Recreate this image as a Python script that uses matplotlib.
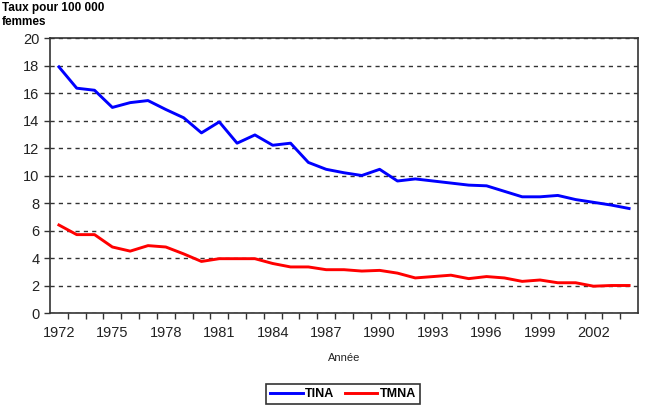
import matplotlib.pyplot as plt
from matplotlib.ticker import MultipleLocator, FixedLocator

plt.rcParams['font.family'] = ['Liberation Sans', 'DejaVu Sans']

# data
annees = list(range(1972, 2005))
tina = [17.9, 16.35, 16.2, 14.95, 15.3, 15.45, 14.8, 14.2, 13.1, 13.9, 12.35,
        12.95, 12.2, 12.35, 10.95, 10.45, 10.2, 10.0, 10.45, 9.6, 9.75, 9.6,
        9.45, 9.3, 9.25, 8.85, 8.45, 8.45, 8.55, 8.25, 8.05, 7.85, 7.6]
tmna = [6.4, 5.7, 5.7, 4.8, 4.5, 4.9, 4.8, 4.3, 3.75, 3.95, 3.95, 3.95, 3.6,
        3.35, 3.35, 3.15, 3.15, 3.05, 3.1, 2.9, 2.55, 2.65, 2.75, 2.5, 2.65,
        2.55, 2.3, 2.4, 2.2, 2.2, 1.95, 2.0, 2.0]
etiquettes = ['TINA', 'TMNA']

fig = plt.figure(figsize=(6.45, 4.11), dpi=100)
ax = fig.add_axes([50 / 645, 98 / 411, 588 / 645, 275 / 411])

ax.plot(annees, tina, color='#0000ff', lw=2.1, label=etiquettes[0])
ax.plot(annees, tmna, color='#ff0000', lw=2.1, label=etiquettes[1])

ax.set_xlim(1971.5, 2004.5)
ax.set_ylim(0, 20)
ax.yaxis.set_major_locator(MultipleLocator(2))
ax.grid(axis='y', color='#333333', ls=(0, (3, 3)), lw=1)

# category axis: ticks between the years, labels every 3 years
ax.xaxis.set_major_locator(FixedLocator(annees[::3]))
ax.xaxis.set_minor_locator(FixedLocator([a + 0.5 for a in annees[:-1]]))
ax.tick_params(axis='x', which='major', length=0, pad=9, labelsize=10.5,
               labelcolor='#222222')
ax.tick_params(axis='x', which='minor', length=4, width=1, color='#333333')
ax.tick_params(axis='y', length=4, width=1, color='#333333', labelsize=10.5,
               labelcolor='#222222')

for s in ax.spines.values():
    s.set_color('#333333')
    s.set_linewidth(1.2)

ax.set_xlabel('Année', fontsize=8, labelpad=10, color='#222222')

leg = fig.legend(loc='center', bbox_to_anchor=(343 / 645, 17 / 411), ncol=2,
                 frameon=True, fancybox=False, edgecolor='black',
                 handlelength=2.6, columnspacing=0.8, handletextpad=0.2,
                 borderpad=0.35, prop={'weight': 'bold', 'size': 9})
leg.get_frame().set_linewidth(1.2)

fig.text(2 / 645, 1 - 2 / 411, 'Taux pour 100 000\nfemmes', fontsize=8.5,
         fontweight='bold', ha='left', va='top', linespacing=1.25)

fig.savefig('out.png', dpi=100)
